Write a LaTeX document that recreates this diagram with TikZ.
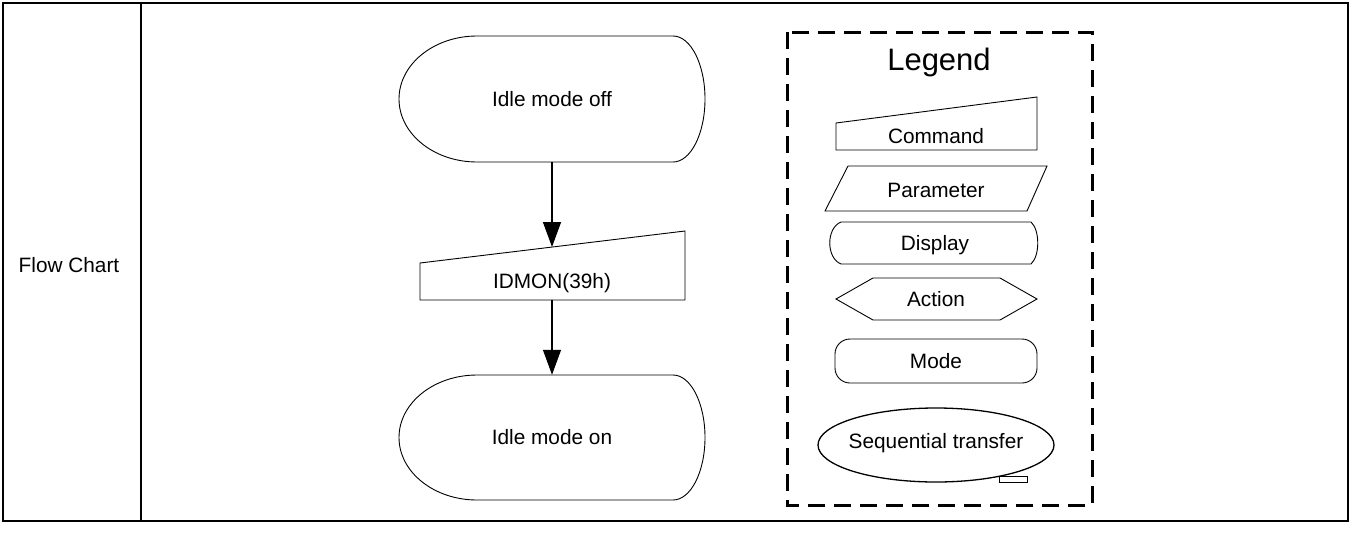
\documentclass[tikz,border=0pt]{standalone}
\usepackage{fontspec}
\setmainfont{Liberation Sans}
\usetikzlibrary{arrows.meta}
\begin{document}
\begin{tikzpicture}[x=1pt,y=-1pt,
  txt/.style={font=\fontsize{20.8}{24}\selectfont, inner sep=0pt},
  shp/.style={draw=black, line width=0.9pt},
  arr/.style={line width=1.3pt, -{Triangle[width=18pt,length=25pt]}},
  frame/.style={line width=2.7pt},
  legbox/.style={line width=3pt, dash pattern=on 17pt off 9pt}]
\useasboundingbox (0,0) rectangle (1354,533);
\draw[frame] (3,3) rectangle (1348,521);
\draw[frame] (141,3) -- (141,521);
\node[txt] (fc) at (69,265) {Flow Chart};

% main flow
\draw[shp] (477,36) -- (673,36) arc[start angle=-90,end angle=90,x radius=32,y radius=63]
  -- (477,162) arc[start angle=90,end angle=270,x radius=78,y radius=63] -- cycle;
\node[txt, minimum height=126pt] (off) at (552,99) {Idle mode off};

\draw[shp] (420,263) -- (685,231) -- (685,300) -- (420,300) -- cycle;
\node[txt] (cmd) at (552,283) {IDMON(39h)};
\coordinate (cmdtop) at (552,247);
\coordinate (cmdbot) at (552,300);

\draw[shp] (477,375) -- (673,375) arc[start angle=-90,end angle=90,x radius=32,y radius=62.5]
  -- (477,500) arc[start angle=90,end angle=270,x radius=78,y radius=62.5] -- cycle;
\node[txt, minimum height=125pt] (on) at (552,437.5) {Idle mode on};

\draw[arr] (off.south) -- (cmdtop);
\draw[arr] (cmdbot) -- (on.north);

% legend
\draw[legbox] (787,32) rectangle (1092,505);
\node[font=\fontsize{31}{36}\selectfont, inner sep=0pt] (leg) at (939,62) {Legend};

\draw[shp] (836,123) -- (1037,97) -- (1037,150) -- (836,150) -- cycle;
\node[txt] (lcmd) at (936,136) {Command};

\draw[shp] (848,166) -- (1047,166) -- (1027,211) -- (825,211) -- cycle;
\node[txt] (lpar) at (936,190) {Parameter};

\draw[shp] (841,222) -- (1031,222) .. controls (1040,230) and (1040,256) .. (1031,264)
  -- (841,264) .. controls (826,258) and (826,228) .. (841,222) -- cycle;
\node[txt] (ldis) at (935,245) {Display};

\draw[shp] (836,299) -- (873,278) -- (1000,278) -- (1037,299) -- (1000,320) -- (873,320) -- cycle;
\node[txt] (lact) at (936,299) {Action};

\draw[shp, rounded corners=15pt] (835,339) rectangle (1037,383);
\node[txt] (lmode) at (936,361) {Mode};

\draw[shp, line width=1.3pt] (936,445) ellipse[x radius=118, y radius=37];
\draw[shp] (999,476) rectangle (1027,482);
\node[txt] (lseq) at (936,443) {Sequential transfer};
\end{tikzpicture}
\end{document}
